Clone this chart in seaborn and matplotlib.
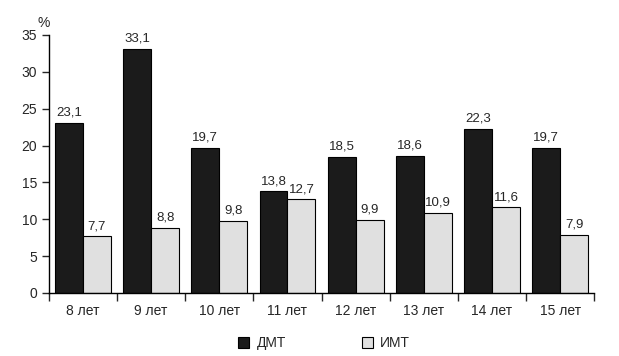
import numpy as np
import pandas as pd
import seaborn as sns
from matplotlib import pyplot as plt
from matplotlib.ticker import FixedLocator

ages = ['8 лет', '9 лет', '10 лет', '11 лет', '12 лет', '13 лет', '14 лет', '15 лет']
dmt = [23.1, 33.1, 19.7, 13.8, 18.5, 18.6, 22.3, 19.7]
imt = [7.7, 8.8, 9.8, 12.7, 9.9, 10.9, 11.6, 7.9]
series = ['ДМТ', 'ИМТ']

df = pd.DataFrame({
    'age': ages * 2,
    'value': dmt + imt,
    'group': [series[0]] * len(ages) + [series[1]] * len(ages),
})

sns.set_style('ticks')
plt.rcParams['font.family'] = ['Liberation Sans', 'DejaVu Sans']

fig = plt.figure(figsize=(6.19, 3.56), dpi=100)
ax = fig.add_axes([0.079, 0.177, 0.881, 0.725])

sns.barplot(data=df, x='age', y='value', hue='group', order=ages,
            palette=['#1b1b1b', '#e0e0e0'], edgecolor='black', linewidth=0.8,
            width=0.82, ax=ax, legend=True)

for cont in ax.containers:
    ax.bar_label(cont, labels=[f'{v:.1f}'.replace('.', ',') for v in cont.datavalues],
                 padding=3, fontsize=9.5)

ax.set_ylim(0, 35)
ax.set_yticks(range(0, 36, 5))
ax.set_xlim(-0.5, len(ages) - 0.5)
ax.xaxis.set_minor_locator(FixedLocator(np.arange(-0.5, len(ages), 1.0)))
ax.tick_params(axis='x', which='major', length=0, labelsize=10, pad=8)
ax.tick_params(axis='x', which='minor', length=6, width=1, direction='out')
ax.tick_params(axis='y', length=5, width=1, labelsize=10)
ax.set_xlabel('')
ax.set_ylabel('')
sns.despine(ax=ax)
for s in ['left', 'bottom']:
    ax.spines[s].set_color('black')
    ax.spines[s].set_linewidth(1)
ax.text(-0.02, 1.02, '%', transform=ax.transAxes, fontsize=10, ha='left', va='bottom')

ax.legend(loc='upper center', bbox_to_anchor=(0.505, -0.12), ncol=2, frameon=False,
          fontsize=10, handlelength=0.8, handleheight=0.8, columnspacing=5.5, handletextpad=0.5)

fig.savefig('out.png', dpi=100)
